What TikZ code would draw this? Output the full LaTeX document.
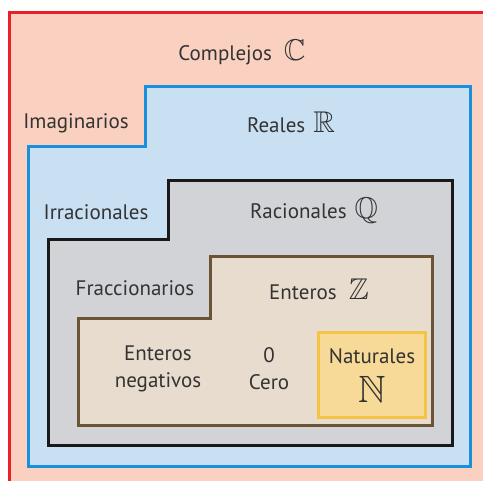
\documentclass[tikz,border=0pt]{standalone}
\usepackage{amssymb}
\usepackage{fontspec}
\setmainfont{PT Sans}
\definecolor{complejo}{HTML}{FAD0C0}
\definecolor{rojo}{HTML}{E8202A}
\definecolor{real}{HTML}{C9E0F2}
\definecolor{azul}{HTML}{1A8FDD}
\definecolor{racional}{HTML}{D2D3D6}
\definecolor{entero}{HTML}{E8DCCE}
\definecolor{marron}{HTML}{6A5433}
\definecolor{natural}{HTML}{F7D998}
\definecolor{amarillo}{HTML}{F6C445}
\definecolor{texto}{HTML}{333333}
\newcommand{\conj}[2][30]{{\fontsize{#1}{#1}\selectfont$\mathbb{#2}$}}
\begin{document}
\begin{tikzpicture}[x=1pt,y=-1pt,
  conjunto/.style={line width=3pt},
  etiqueta/.style={text=texto,font=\fontsize{21}{27}\selectfont,align=center,inner sep=0pt}]
  \useasboundingbox (0,0) rectangle (483,481);
  \clip (0,0) rectangle (483,481);
  \fill[white] (0,0) rectangle (483,481);

  % complejos
  \draw[conjunto,draw=rojo,fill=complejo] (9,13) rectangle (500,500);
  % reales
  \draw[conjunto,draw=azul,fill=real] (145,87) -- (470,87) -- (470,467) -- (28,467)
    -- (28,147) -- (145,147) -- cycle;
  % racionales
  \draw[conjunto,draw=black!90,fill=racional] (168,181) -- (452,181) -- (452,446) -- (48,446)
    -- (48,240) -- (168,240) -- cycle;
  % enteros
  \draw[conjunto,draw=marron,fill=entero] (210,257) -- (432,257) -- (432,426) -- (78,426)
    -- (78,319) -- (210,319) -- cycle;
  % naturales
  \draw[conjunto,draw=amarillo,fill=natural] (318,333) rectangle (425,418);
  %%%%%%%%%%%%%%%%%%%%%
  \node[etiqueta] (complejos) at (242,52) {Complejos\hspace{12pt}\conj{C}};
  \node[etiqueta] (imaginarios) at (76,123) {Imaginarios};
  \node[etiqueta] (reales) at (291,122) {Reales\hspace{8pt}\conj{R}};
  \node[etiqueta] (irracionales) at (96,212) {Irracionales};
  \node[etiqueta] (racionales) at (314,211) {Racionales\hspace{8pt}\conj{Q}};
  \node[etiqueta] (fraccionarios) at (135,288) {Fraccionarios};
  \node[etiqueta] (enteros) at (319,289) {Enteros\hspace{12pt}\conj{Z}};
  \node[etiqueta] (negativos) at (158,369) {Enteros\\negativos};
  \node[etiqueta] (cero) at (269,369) {0\\Cero};
  \node[etiqueta,anchor=north] (naturales) at (372,348) {Naturales\\[12pt]\conj[38]{N}};
\end{tikzpicture}
\end{document}
